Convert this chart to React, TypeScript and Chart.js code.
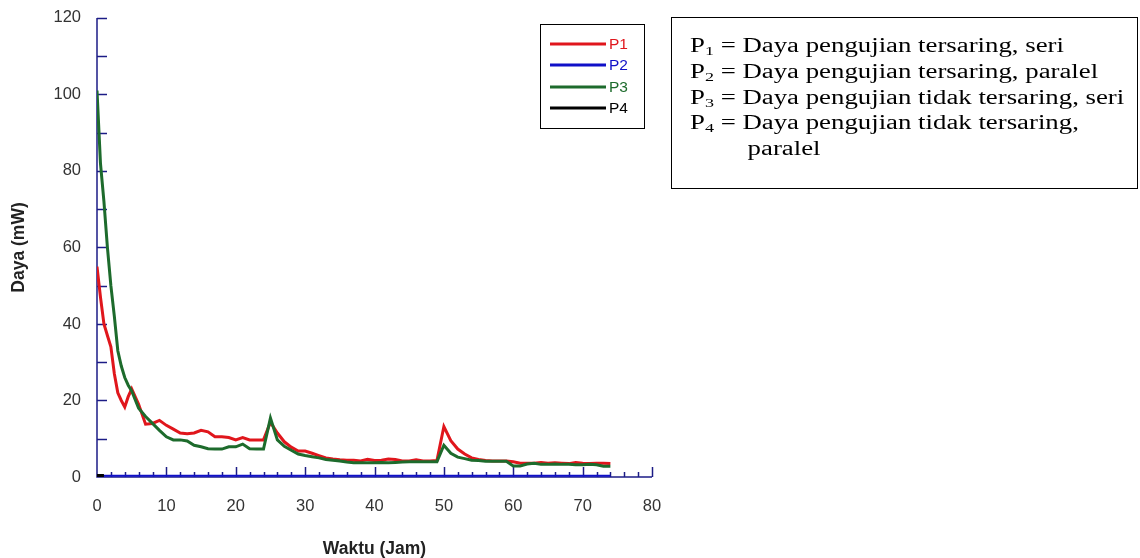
import React, { useEffect, useRef } from "react";
import { Chart, registerables } from "chart.js";

Chart.register(...registerables);

const hours = [0, 0.5, 1, 1.5, 2, 2.5, 3, 3.5, 4, 4.5, 5, 6, 7, 8, 9, 10, 11, 12, 13, 14, 15, 16, 17, 18, 19, 20, 21, 22, 23, 24, 25, 26, 27, 28, 29, 30, 31, 32, 33, 34, 35, 36, 37, 38, 39, 40, 41, 42, 43, 44, 45, 46, 47, 48, 49, 50, 51, 52, 53, 54, 55, 56, 57, 58, 59, 60, 61, 62, 63, 64, 65, 66, 67, 68, 69, 70, 71, 72, 73, 74];

const p1 = [55, 47, 40, 37, 34, 27, 22, 20, 18.3, 21, 23, 19, 13.8, 14, 14.8, 13.5, 12.5, 11.5, 11.3, 11.5, 12.2, 11.8, 10.5, 10.5, 10.3, 9.7, 10.3, 9.7, 9.7, 9.7, 14.3, 11.5, 9.2, 7.8, 6.8, 6.8, 6.2, 5.6, 5.0, 4.7, 4.5, 4.4, 4.4, 4.2, 4.6, 4.3, 4.4, 4.7, 4.6, 4.2, 4.2, 4.5, 4.2, 4.2, 4.3, 13.2, 9.5, 7.3, 6.0, 5.0, 4.6, 4.3, 4.2, 4.2, 4.2, 4.0, 3.6, 3.6, 3.6, 3.8, 3.6, 3.7, 3.6, 3.5, 3.8, 3.6, 3.5, 3.6, 3.6, 3.5];

const p2 = [0.3, 0.3, 0.3, 0.3, 0.3, 0.3, 0.3, 0.3, 0.3, 0.3, 0.3, 0.3, 0.3, 0.3, 0.3, 0.3, 0.3, 0.3, 0.3, 0.3, 0.3, 0.3, 0.3, 0.3, 0.3, 0.3, 0.3, 0.3, 0.3, 0.3, 0.3, 0.3, 0.3, 0.3, 0.3, 0.3, 0.3, 0.3, 0.3, 0.3, 0.3, 0.3, 0.3, 0.3, 0.3, 0.3, 0.3, 0.3, 0.3, 0.3, 0.3, 0.3, 0.3, 0.3, 0.3, 0.3, 0.3, 0.3, 0.3, 0.3, 0.3, 0.3, 0.3, 0.3, 0.3, 0.3, 0.3, 0.3, 0.3, 0.3, 0.3, 0.3, 0.3, 0.3, 0.3, 0.3, 0.3, 0.3, 0.3, 0.3];

const p3 = [101, 82, 72, 60, 50, 42, 33, 29, 26, 24, 22.5, 18, 15.8, 14, 12.2, 10.5, 9.7, 9.7, 9.4, 8.3, 7.9, 7.4, 7.3, 7.3, 7.9, 7.9, 8.6, 7.4, 7.3, 7.3, 15.4, 9.7, 8.0, 7.0, 6.0, 5.6, 5.3, 5.0, 4.6, 4.4, 4.2, 3.9, 3.7, 3.7, 3.7, 3.7, 3.8, 3.7, 3.8, 3.9, 4.0, 4.0, 4.0, 4.0, 4.0, 8.3, 6.2, 5.2, 4.8, 4.4, 4.3, 4.1, 4.1, 4.1, 4.1, 2.9, 2.9, 3.4, 3.6, 3.3, 3.3, 3.4, 3.3, 3.3, 3.2, 3.2, 3.3, 3.2, 2.8, 2.8];

const p4 = [0.4, 0.4, 0.4];

const seriesNames = ["P1", "P2", "P3", "P4"];
const seriesColors = ["#e0161c", "#1010c8", "#1d6b2c", "#000000"];
const xTicks = [0, 10, 20, 30, 40, 50, 60, 70, 80];
const yTicks = [0, 20, 40, 60, 80, 100, 120];

const AXIS = "#1c1c86";
const SANS = "'Liberation Sans', Arial, sans-serif";

const pts = (vals: number[]) => vals.map((v, i) => ({ x: hours[i], y: v }));

const axesPlugin = {
  id: "innerAxes",
  beforeDatasetsDraw(chart: any) {
    const { ctx, scales } = chart;
    const xs = scales.x;
    const ys = scales.y;
    const x0 = xs.getPixelForValue(0);
    const y0 = ys.getPixelForValue(0);
    ctx.save();
    ctx.strokeStyle = AXIS;
    ctx.lineWidth = 1.5;
    ctx.beginPath();
    ctx.moveTo(x0, ys.getPixelForValue(120));
    ctx.lineTo(x0, y0);
    ctx.lineTo(xs.getPixelForValue(80), y0);
    ctx.stroke();
    for (let v = 10; v <= 120; v += 10) {
      const y = Math.round(ys.getPixelForValue(v)) + 0.5;
      ctx.beginPath();
      ctx.moveTo(x0, y);
      ctx.lineTo(x0 + 10, y);
      ctx.stroke();
    }
    for (let v = 2; v <= 80; v += 2) {
      const x = Math.round(xs.getPixelForValue(v)) + 0.5;
      const len = v % 10 === 0 ? 10 : 5;
      ctx.beginPath();
      ctx.moveTo(x, y0);
      ctx.lineTo(x, y0 - len);
      ctx.stroke();
    }
    ctx.restore();
  },
  afterDraw(chart: any) {
    const { ctx } = chart;
    ctx.save();
    ctx.strokeStyle = "#000";
    ctx.lineWidth = 1;
    ctx.strokeRect(540.5, 24.5, 104, 104);
    chart.data.datasets.forEach((ds: any, i: number) => {
      const y = Math.round(44 + i * 21.3);
      ctx.strokeStyle = ds.borderColor;
      ctx.lineWidth = 3;
      ctx.beginPath();
      ctx.moveTo(550, y);
      ctx.lineTo(606, y);
      ctx.stroke();
      ctx.fillStyle = ds.borderColor;
      ctx.font = "15.5px " + SANS;
      ctx.textBaseline = "middle";
      ctx.textAlign = "left";
      ctx.fillText(ds.label, 609, y + 1);
    });
    ctx.restore();
  },
};

export default function App() {
  const ref = useRef<HTMLCanvasElement | null>(null);
  useEffect(() => {
    if (!ref.current) return;
    const tickFont = { family: SANS, size: 16.5 };
    const titleFont = { family: SANS, size: 17.5, weight: "bold", lineHeight: 1 };
    const chart = new Chart(ref.current, {
      type: "line",
      data: {
        datasets: [
          { label: seriesNames[0], data: pts(p1), borderColor: seriesColors[0], backgroundColor: seriesColors[0], borderWidth: 3, pointRadius: 0, tension: 0, order: 1 },
          { label: seriesNames[1], data: pts(p2), borderColor: seriesColors[1], backgroundColor: seriesColors[1], borderWidth: 2, pointRadius: 0, tension: 0, order: 3 },
          { label: seriesNames[2], data: pts(p3), borderColor: seriesColors[2], backgroundColor: seriesColors[2], borderWidth: 3, pointRadius: 0, tension: 0, order: 0 },
          { label: seriesNames[3], data: pts(p4), borderColor: seriesColors[3], backgroundColor: seriesColors[3], borderWidth: 3, pointRadius: 0, tension: 0, order: 2 },
        ],
      },
      options: {
        responsive: false,
        animation: false,
        layout: { padding: { top: 8, right: 488, left: 0, bottom: 0 } },
        plugins: { legend: { display: false }, tooltip: { enabled: false } },
        scales: {
          x: {
            type: "linear",
            min: 0,
            max: 80,
            afterBuildTicks: (s: any) => { s.ticks = xTicks.map((v) => ({ value: v })); },
            afterFit: (s: any) => { s.height = 81; },
            grid: { display: false },
            border: { display: false },
            ticks: { color: "#333", font: tickFont, padding: 12 },
            title: { display: true, text: "Waktu (Jam)", color: "#222", font: titleFont, padding: { top: 0, bottom: 0 } },
          },
          y: {
            type: "linear",
            min: 0,
            max: 120,
            afterBuildTicks: (s: any) => { s.ticks = yTicks.map((v) => ({ value: v })); },
            afterFit: (s: any) => { s.width = 97; },
            grid: { display: false },
            border: { display: false },
            ticks: { color: "#333", font: tickFont, padding: 8 },
            title: { display: true, text: "Daya (mW)", color: "#222", font: titleFont, padding: { top: 10, bottom: 0 } },
          },
        },
      },
      plugins: [axesPlugin],
    } as any);
    return () => chart.destroy();
  }, []);

  const sub = { fontSize: 13.5, verticalAlign: "-3px" } as React.CSSProperties;
  const line = { height: 25.8, lineHeight: "25.8px", whiteSpace: "nowrap" } as React.CSSProperties;

  return (
    <div style={{ position: "absolute", left: 0, top: 0, width: 1140, height: 558, background: "#fff" }}>
      <canvas ref={ref} width={1140} height={558} style={{ position: "absolute", left: 0, top: 0 }} />
      <div
        style={{
          position: "absolute",
          left: 671,
          top: 17,
          width: 467,
          height: 172,
          boxSizing: "border-box",
          border: "1.5px solid #000",
        }}
      >
        <div
          style={{
            position: "absolute",
            left: 18,
            top: 15,
            transform: "scaleX(1.34)",
            transformOrigin: "0 0",
            fontFamily: "'Liberation Serif', 'Times New Roman', serif",
            fontSize: 20,
            color: "#000",
          }}
        >
          <div style={line}>P<span style={sub}>1</span> = Daya pengujian tersaring, seri</div>
          <div style={line}>P<span style={sub}>2</span> = Daya pengujian tersaring, paralel</div>
          <div style={line}>P<span style={sub}>3</span> = Daya pengujian tidak tersaring, seri</div>
          <div style={line}>P<span style={sub}>4</span> = Daya pengujian tidak tersaring,</div>
          <div style={{ ...line, paddingLeft: 43 }}>paralel</div>
        </div>
      </div>
    </div>
  );
}
